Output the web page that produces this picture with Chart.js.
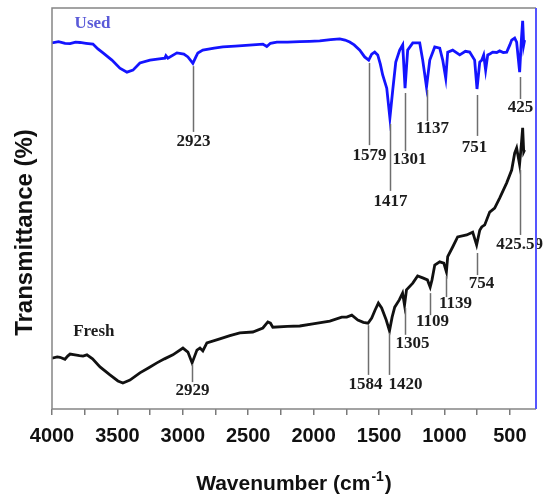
<!DOCTYPE html>
<html>
<head>
<meta charset="utf-8">
<title>FTIR spectra - Used / Fresh</title>
<script src="https://cdn.jsdelivr.net/npm/chart.js@4.4.1/dist/chart.umd.min.js"></script>
<style>
  html, body { margin: 0; padding: 0; background: #fff; }
  #chart { display: block; }
</style>
</head>
<body>
<canvas id="chart" width="546" height="494"></canvas>
<script>
// --- spectra (wavenumber in cm-1, transmittance in arbitrary %) ---
const usedWavenumber = [4000, 3950, 3900, 3862, 3820, 3786, 3740, 3687, 3649, 3610, 3542, 3481, 3427, 3381, 3328, 3251,
  3180, 3137, 3129, 3114, 3045, 2992, 2961, 2923, 2900, 2885, 2847, 2760, 2694, 2600, 2465, 2388, 2358, 2330, 2281,
  2200, 2106, 2030, 1953, 1870, 1800, 1760, 1724, 1690, 1647, 1610, 1579, 1556, 1533, 1510, 1490, 1472, 1441, 1417,
  1395, 1372, 1342, 1319, 1301, 1281, 1242, 1189, 1166, 1137, 1112, 1074, 1036, 1013, 990, 975, 937, 883, 840, 807,
  769, 751, 730, 715, 700, 685, 669, 650, 631, 600, 578, 550, 524, 500, 486, 463, 448, 425, 412, 402, 394, 387];
const usedTransmittance = [91.3, 91.6, 91.2, 91.1, 91.5, 91.4, 91.2, 91.0, 89.8, 88.8, 87.0, 85.0, 84.0, 84.5, 86.3, 87.0,
  87.3, 87.5, 88.1, 87.5, 88.8, 88.5, 87.8, 86.2, 87.8, 88.8, 89.5, 90.0, 90.3, 90.5, 90.8, 91.0, 90.4, 91.2, 91.5,
  91.5, 91.6, 91.7, 91.8, 92.1, 92.3, 92.0, 91.5, 90.8, 89.5, 87.8, 87.0, 88.5, 89.0, 88.3, 86.0, 83.3, 80.0, 72.6,
  79.6, 86.5, 89.5, 90.8, 80.0, 89.5, 91.3, 91.3, 87.0, 80.3, 87.0, 90.3, 90.0, 87.0, 82.5, 89.0, 89.5, 88.3, 89.2, 89.0,
  87.0, 79.8, 86.5, 87.0, 88.3, 84.5, 88.3, 88.6, 89.0, 88.9, 89.3, 88.9, 89.0, 90.8, 92.0, 92.5, 91.5, 84.0, 92.0, 96.8, 90.8, 92.0];

const freshWavenumber = [4000, 3960, 3939, 3901, 3880, 3862, 3824, 3790, 3763, 3733, 3690, 3633, 3557, 3496, 3458, 3404,
  3328, 3260, 3198, 3140, 3076, 2999, 2961, 2929, 2892, 2869, 2847, 2816, 2717, 2640, 2564, 2465, 2388, 2350, 2330,
  2312, 2200, 2106, 2006, 1876, 1785, 1747, 1708, 1662, 1620, 1584, 1556, 1530, 1505, 1480, 1445, 1420, 1400, 1380,
  1345, 1320, 1305, 1290, 1242, 1205, 1166, 1130, 1109, 1095, 1074, 1036, 1005, 985, 975, 937, 899, 830, 784, 754,
  730, 715, 692, 654, 616, 578, 524, 486, 463, 448, 425.59, 412, 402, 394, 387];
const freshTransmittance = [12.7, 13.0, 12.9, 12.4, 13.2, 13.7, 13.5, 13.3, 13.2, 13.5, 12.5, 10.5, 8.5, 7.0, 6.5, 7.2,
  9.0, 10.3, 11.5, 12.5, 13.5, 15.2, 14.2, 11.5, 14.7, 15.2, 14.5, 16.5, 17.5, 18.3, 19.0, 19.2, 20.2, 21.7, 21.4,
  20.4, 20.6, 20.7, 21.2, 21.9, 22.9, 22.9, 23.4, 22.2, 21.6, 21.4, 22.7, 24.7, 26.4, 25.2, 22.2, 19.5, 22.9, 25.4,
  27.2, 28.9, 25.9, 29.7, 31.4, 33.2, 32.7, 32.2, 30.4, 32.2, 35.9, 36.7, 36.4, 34.2, 38.0, 40.4, 42.9, 43.4, 44.1, 40.9,
  44.6, 45.4, 45.9, 49.1, 50.1, 52.6, 56.4, 59.6, 63.8, 65.1, 61.0, 66.0, 70.1, 64.1, 64.6];

// x axis ticks: labelled every 500, unlabelled in between
const xTickValues = [4000, 3750, 3500, 3250, 3000, 2750, 2500, 2250, 2000, 1750, 1500, 1250, 1000, 750, 500];

// --- peak markers ---
const usedPeakAt = [2923, 1579, 1417, 1301, 1137, 751, 425];
const usedPeakText = ['2923', '1579', '1417', '1301', '1137', '751', '425'];
const freshPeakAt = [2929, 1584, 1420, 1305, 1109, 985, 754, 425.59];
const freshPeakText = ['2929', '1584', '1420', '1305', '1109', '1139', '754', '425.59'];

// [line top, line bottom, label centre] in y units, label shift in px
const usedPeakLayout = [[85.5, 69.1, 66.6, 0], [86.3, 65.8, 63.1, 0], [71.1, 54.4, 51.6, 0], [78.8, 64.3, 62.1, 4],
  [79.6, 71.8, 69.8, 5], [78.3, 68.1, 65.3, -3], [82.8, 77.3, 75.1, 0]];
const freshPeakLayout = [[11.2, 6.7, 4.7, 0], [20.9, 8.5, 6.0, -3], [19.0, 8.5, 6.0, 16], [25.2, 18.5, 16.2, 7],
  [28.9, 23.4, 21.9, 2], [33.2, 27.9, 26.4, 9], [38.9, 33.4, 31.2, 4], [59.6, 43.4, 41.1, -1]];

const sans = '"Liberation Sans", Arial, Helvetica, sans-serif';
const serif = '"Liberation Serif", "Times New Roman", Times, serif';

function points(xs, ys) {
  return xs.map((v, i) => ({ x: v, y: ys[i] }));
}

const decorations = {
  id: 'ftirDecorations',
  afterDatasetsDraw(chart) {
    const { ctx, scales: { x, y } } = chart;
    ctx.save();
    ctx.lineWidth = 1.5;
    ctx.strokeStyle = '#6e6e6e';
    ctx.fillStyle = '#1c1c1c';
    ctx.font = 'bold 17px ' + serif;
    ctx.textAlign = 'center';
    ctx.textBaseline = 'middle';
    const groups = [[usedPeakAt, usedPeakText, usedPeakLayout], [freshPeakAt, freshPeakText, freshPeakLayout]];
    groups.forEach(([at, text, lay]) => {
      at.forEach((wn, i) => {
        const [top, bottom, labelY, dx] = lay[i];
        const px = Math.round(x.getPixelForValue(wn)) + 0.5;
        ctx.beginPath();
        ctx.moveTo(px, y.getPixelForValue(top));
        ctx.lineTo(px, y.getPixelForValue(bottom));
        ctx.stroke();
        ctx.fillText(text[i], px + dx, y.getPixelForValue(labelY));
      });
    });

    // sample names
    ctx.fillStyle = '#5a5ad8';
    ctx.fillText('Used', x.getPixelForValue(3690), y.getPixelForValue(96.0));
    ctx.fillStyle = '#1c1c1c';
    ctx.fillText('Fresh', x.getPixelForValue(3680), y.getPixelForValue(19.2));
    ctx.restore();
  },
  afterDraw(chart) {
    const { ctx, chartArea: a } = chart;
    ctx.save();
    // frame: grey on three sides, blue on the right
    ctx.lineWidth = 1.5;
    ctx.strokeStyle = '#858585';
    ctx.beginPath();
    ctx.moveTo(a.right, a.top);
    ctx.lineTo(a.left, a.top);
    ctx.lineTo(a.left, a.bottom);
    ctx.lineTo(a.right, a.bottom);
    ctx.stroke();
    ctx.strokeStyle = '#5555ff';
    ctx.lineWidth = 2;
    ctx.beginPath();
    ctx.moveTo(a.right, a.top);
    ctx.lineTo(a.right, a.bottom);
    ctx.stroke();

    // x title with superscript
    ctx.fillStyle = '#111';
    ctx.textBaseline = 'alphabetic';
    ctx.textAlign = 'left';
    const big = 'bold 21px ' + sans, small = 'bold 14px ' + sans;
    ctx.font = big;
    const wMain = ctx.measureText('Wavenumber (cm').width;
    const wTail = ctx.measureText(')').width;
    ctx.font = small;
    const wSup = ctx.measureText('-1').width;
    let sx = (a.left + a.right) / 2 - (wMain + wSup + wTail + 2) / 2;
    const base = chart.height - 4;
    ctx.font = big;
    ctx.fillText('Wavenumber (cm', sx, base);
    sx += wMain + 1;
    ctx.font = small;
    ctx.fillText('-1', sx, base - 9);
    sx += wSup + 1;
    ctx.font = big;
    ctx.fillText(')', sx, base);

    // y title
    ctx.translate(a.left - 27, (a.top + a.bottom) / 2 + 24);
    ctx.rotate(-Math.PI / 2);
    ctx.textAlign = 'center';
    ctx.textBaseline = 'middle';
    ctx.font = 'bold 24px ' + sans;
    ctx.fillText('Transmittance (%)', 0, 0);
    ctx.restore();
  }
};

new Chart(document.getElementById('chart'), {
  type: 'line',
  data: {
    datasets: [
      {
        label: 'Used',
        data: points(usedWavenumber, usedTransmittance),
        borderColor: '#1414ff',
        borderWidth: 2.8,
        pointRadius: 0,
        tension: 0
      },
      {
        label: 'Fresh',
        data: points(freshWavenumber, freshTransmittance),
        borderColor: '#111111',
        borderWidth: 2.8,
        pointRadius: 0,
        tension: 0
      }
    ]
  },
  options: {
    responsive: false,
    animation: false,
    devicePixelRatio: 1,
    layout: { padding: { left: 52, right: 10, top: 8, bottom: 37 } },
    plugins: {
      legend: { display: false },
      tooltip: { enabled: false }
    },
    scales: {
      x: {
        type: 'linear',
        reverse: true,
        min: 300,
        max: 4000,
        afterBuildTicks(axis) {
          axis.ticks = xTickValues.map(v => ({ value: v }));
        },
        grid: {
          drawOnChartArea: false,
          drawTicks: true,
          tickLength: 6,
          color: '#7a7a7a',
          lineWidth: 1.5
        },
        border: { display: false },
        ticks: {
          autoSkip: false,
          maxRotation: 0,
          padding: 9,
          color: '#111',
          font: { family: sans, weight: 'bold', size: 20 },
          callback: v => (v % 500 === 0 ? String(v) : '')
        }
      },
      y: {
        display: false,
        min: 0,
        max: 100
      }
    }
  },
  plugins: [decorations]
});
</script>
</body>
</html>
